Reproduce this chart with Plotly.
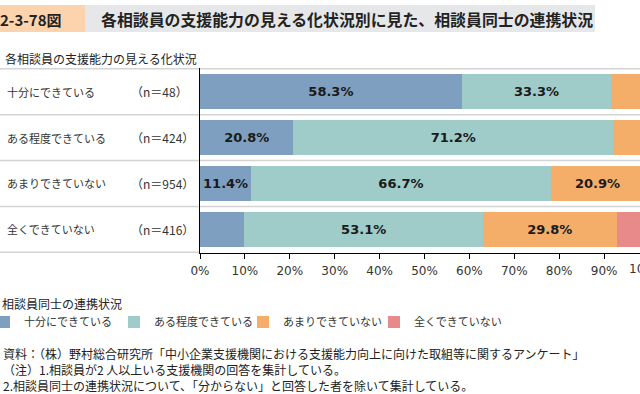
import plotly.graph_objects as go

# ---------------- data ----------------
categories = ["十分にできている", "ある程度できている", "あまりできていない", "全くできていない"]
n_counts = [48, 424, 954, 416]
series_names = ["十分にできている", "ある程度できている", "あまりできていない", "全くできていない"]
v_full = [58.3, 20.8, 11.4, 9.9]
v_some = [33.3, 71.2, 66.7, 53.1]
v_little = [6.3, 7.1, 20.9, 29.8]
v_none = [2.1, 0.9, 1.0, 7.2]
tick_vals = [0, 10, 20, 30, 40, 50, 60, 70, 80, 90, 100]
tick_text = [f"{t}%" for t in tick_vals]

title_num = "2-3-78図"
title_text = "各相談員の支援能力の見える化状況別に見た、相談員同士の連携状況"
subtitle = "各相談員の支援能力の見える化状況"
legend_title = "相談員同士の連携状況"
notes = [
    "資料：（株）野村総合研究所「中小企業支援機関における支援能力向上に向けた取組等に関するアンケート」",
    "（注）1.相談員が2 人以上いる支援機関の回答を集計している。",
    "2.相談員同士の連携状況について、「分からない」と回答した者を除いて集計している。",
]

colors = ["#7F9FC0", "#9FCBC8", "#F4AE69", "#E8898A"]

# ---------------- layout geometry (pixels) ----------------
W, H = 640, 394
L, T, Bpx = 200, 68, 253
plot_w = W - L
plot_h = Bpx - T
x_max = 98.0
legend_text_x = [22, 152, 281, 412]   # where each legend entry's text starts

def pxx(x):
    return (x - L) / plot_w

def pyy(y):
    return (Bpx - y) / plot_h

JP = "Noto Sans CJK JP"
NUM = "DejaVu Sans"

legend_ids = ["legend", "legend2", "legend3", "legend4"]

fig = go.Figure()
for name, vals, col, lid in zip(series_names, [v_full, v_some, v_little, v_none], colors, legend_ids):
    fig.add_trace(go.Bar(
        y=categories, x=vals, name=name, orientation="h",
        marker=dict(color=col, line=dict(width=0)),
        text=[f"{v:.1f}%" if v >= 10 else "" for v in vals],
        textposition="inside", insidetextanchor="middle",
        textangle=0, constraintext="none",
        textfont=dict(family=NUM, size=13, color="#1a1a1a", weight="bold"),
        hoverinfo="skip", legend=lid,
    ))

shapes = []
# header bands
shapes.append(dict(type="rect", xref="paper", yref="paper",
                   x0=pxx(0), x1=pxx(85), y0=pyy(32), y1=pyy(5),
                   fillcolor="#FDD3AE", line=dict(width=0), layer="below"))
shapes.append(dict(type="rect", xref="paper", yref="paper",
                   x0=pxx(85), x1=pxx(595), y0=pyy(32), y1=pyy(5),
                   fillcolor="#E6E7E9", line=dict(width=0), layer="below"))
# row separator lines
for b in [-0.5, 0.5, 1.5, 2.5]:
    shapes.append(dict(type="line", xref="paper", yref="y",
                       x0=pxx(0), x1=1, y0=b, y1=b,
                       line=dict(color="#D4D4D4", width=1.5), layer="below"))
shapes.append(dict(type="line", xref="paper", yref="y",
                   x0=pxx(0), x1=0, y0=len(categories) - 0.5, y1=len(categories) - 0.5,
                   line=dict(color="#D4D4D4", width=1.5), layer="below"))

annotations = []
annotations.append(dict(text=f"<b>{title_num}</b>", xref="paper", yref="paper",
                        x=pxx(-2), y=pyy(19), xanchor="left", yanchor="middle",
                        showarrow=False, font=dict(family=JP, size=15, color="#222")))
annotations.append(dict(text=f"<b>{title_text}</b>", xref="paper", yref="paper",
                        x=pxx(99), y=pyy(19), xanchor="left", yanchor="middle",
                        showarrow=False, font=dict(family=JP, size=15.9, color="#222")))
annotations.append(dict(text=subtitle, xref="paper", yref="paper",
                        x=pxx(3), y=pyy(58), xanchor="left", yanchor="middle",
                        showarrow=False, font=dict(family=JP, size=12, color="#222")))
for c, n in zip(categories, n_counts):
    annotations.append(dict(text=c, xref="paper", yref="y", x=pxx(5), y=c,
                            xanchor="left", yanchor="middle", showarrow=False,
                            font=dict(family=JP, size=11, color="#333")))
    annotations.append(dict(text=f"（n＝{n}）", xref="paper", yref="y", x=pxx(129), y=c,
                            xanchor="left", yanchor="middle", showarrow=False,
                            font=dict(family=JP, size=12, color="#333")))
# tick label beyond the visible range (cut by the page edge)
for tv, tt in zip(tick_vals, tick_text):
    if tv > x_max:
        annotations.append(dict(text=tt, xref="paper", yref="paper",
                                x=tv / x_max, y=pyy(269), xanchor="center", yanchor="middle",
                                xshift=-3, showarrow=False,
                                font=dict(family=NUM, size=12, color="#333")))
# legend title
annotations.append(dict(text=legend_title, xref="paper", yref="paper",
                        x=pxx(0), y=pyy(303), xanchor="left", yanchor="middle",
                        showarrow=False, font=dict(family=JP, size=12, color="#222")))
for i, line in enumerate(notes):
    annotations.append(dict(text=line, xref="paper", yref="paper",
                            x=pxx(1), y=pyy(353 + i * 16), xanchor="left", yanchor="middle",
                            showarrow=False, font=dict(family=JP, size=12, color="#222")))

legend_common = dict(orientation="h", yanchor="middle", itemwidth=30, itemclick=False,
                     font=dict(family=JP, size=11, color="#333"), bgcolor="rgba(0,0,0,0)")
legend_layout = {}
for lid, tx in zip(legend_ids, legend_text_x):
    legend_layout[lid] = dict(x=pxx(tx - 38), y=pyy(322), xanchor="left", **legend_common)

fig.update_layout(
    width=W, height=H,
    margin=dict(l=L, r=0, t=T, b=H - Bpx, autoexpand=False, pad=0),
    barmode="stack", bargap=0.24,
    paper_bgcolor="white", plot_bgcolor="white",
    showlegend=True,
    shapes=shapes, annotations=annotations,
    xaxis=dict(range=[0, x_max], tickvals=tick_vals, ticktext=tick_text,
               showgrid=False, zeroline=False, showline=True, linecolor="black", linewidth=1,
               ticks="outside", ticklen=5, tickcolor="black", tickwidth=1, ticklabelstandoff=2,
               tickfont=dict(family=NUM, size=12, color="#333"), fixedrange=True),
    yaxis=dict(categoryorder="array", categoryarray=categories, autorange="reversed",
               showgrid=False, zeroline=False, showline=True, linecolor="black", linewidth=1,
               showticklabels=False, ticks="", fixedrange=True),
    font=dict(family=JP),
    **legend_layout,
)

fig.write_html("out.html", config={"displayModeBar": False},
               post_script="document.body.style.margin='0';document.body.style.overflow='hidden';")
